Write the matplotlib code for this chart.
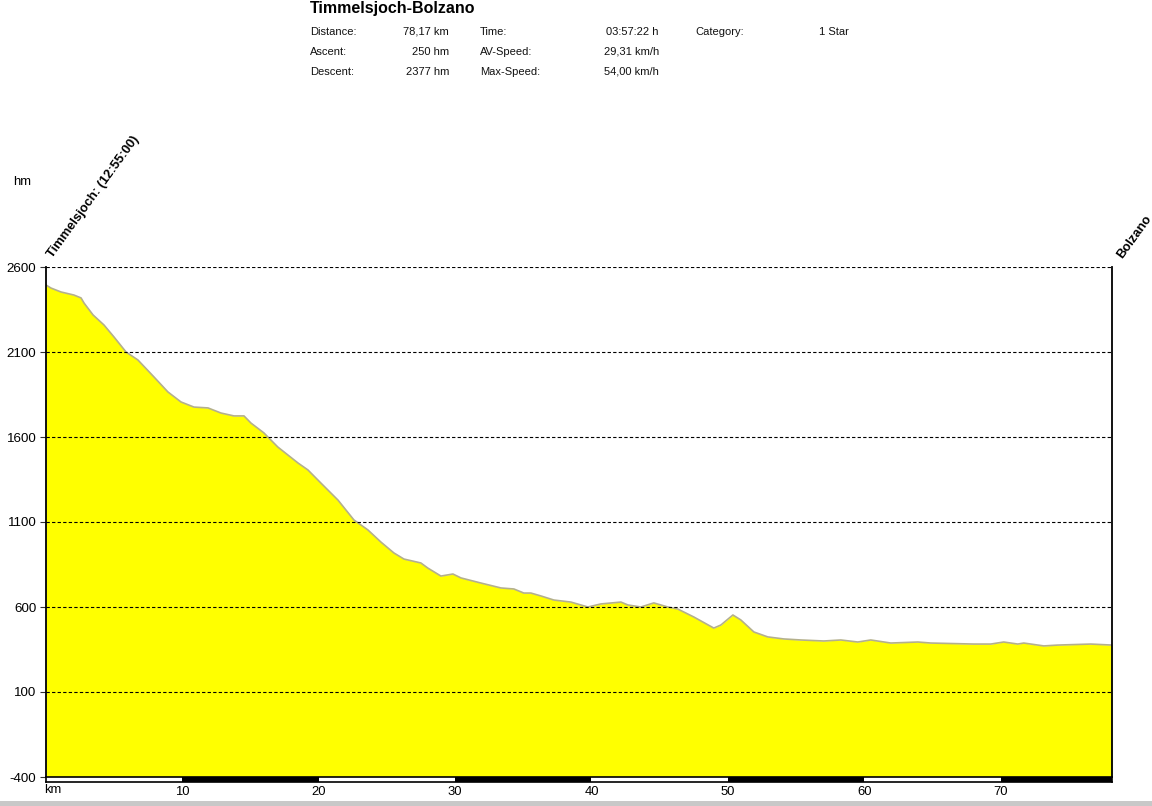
import matplotlib
matplotlib.use("Agg")
import matplotlib.pyplot as plt
from matplotlib.patches import Rectangle

plt.rcParams["font.family"] = ["Liberation Sans", "DejaVu Sans"]

# Höhenprofil (km, hm)
km = [0.0, 0.37, 1.1, 2.05, 2.57, 2.79, 3.45, 4.25, 4.99, 5.87, 6.74, 7.92,
      8.94, 9.90, 10.85, 11.88, 12.83, 13.78, 14.52, 15.03, 15.98, 17.0,
      18.48, 19.21, 20.16, 21.41, 22.58, 23.61, 24.56, 25.51, 26.25, 27.49,
      28.0, 28.96, 29.84, 30.43, 31.89, 33.36, 34.31, 35.04, 35.56, 36.29,
      37.24, 38.49, 39.74, 40.69, 42.16, 42.67, 43.62, 44.57, 45.6, 46.33,
      47.51, 48.97, 49.49, 50.37, 50.95, 51.91, 52.93, 54.11, 55.35, 57.04,
      58.28, 59.53, 60.48, 61.95, 63.93, 64.88, 68.04, 69.28, 70.23, 71.26,
      71.7, 73.17, 74.19, 76.61, 78.17]
hm = [2494, 2476, 2453, 2435, 2418, 2388, 2318, 2259, 2188, 2100, 2053, 1953,
      1865, 1806, 1776, 1771, 1741, 1724, 1724, 1682, 1624, 1541,
      1447, 1406, 1329, 1229, 1112, 1053, 982, 918, 882, 859,
      829, 782, 794, 771, 741, 712, 706, 682, 682, 665,
      641, 629, 600, 618, 629, 612, 600, 624, 600, 588,
      541, 476, 494, 553, 524, 453, 424, 412, 406, 400,
      406, 394, 406, 388, 394, 388, 382, 382, 394, 382,
      388, 371, 376, 382, 376]

y_ticks = [-400, 100, 600, 1100, 1600, 2100, 2600]
x_ticks = [10, 20, 30, 40, 50, 60, 70]
total_km = 78.17

title = "Timmelsjoch-Bolzano"
info_rows = [
    ("Distance:", "78,17 km", "Time:", "03:57:22 h", "Category:", "1 Star"),
    ("Ascent:", "250 hm", "AV-Speed:", "29,31 km/h", "", ""),
    ("Descent:", "2377 hm", "Max-Speed:", "54,00 km/h", "", ""),
]
start_label = "Timmelsjoch: (12:55:00)"
end_label = "Bolzano"

W, H = 1152, 806
fig = plt.figure(figsize=(W / 100, H / 100), dpi=100)


def fx(px):
    return px / W


def fy(py):
    return 1 - py / H


ax = fig.add_axes([fx(46), fy(777), fx(1112) - fx(46), fy(267) - fy(777)])
ax.fill_between(km, hm, -400, color="#ffff00", lw=0)
ax.plot(km, hm, color="#b4b08c", lw=1.2)
ax.set_xlim(0, total_km)
ax.set_ylim(-400, 2600)
ax.set_yticks(y_ticks)
ax.set_yticklabels([str(v) for v in y_ticks], fontsize=9.6)
ax.tick_params(axis="y", length=4, width=0.8, pad=3, color="#333333")
ax.set_xticks([])
for v in y_ticks[1:]:
    ax.axhline(v, color="black", lw=0.8, ls=(0, (3, 2)), zorder=3)
for s in ["top", "bottom"]:
    ax.spines[s].set_visible(False)
ax.spines["left"].set_linewidth(1.3)
ax.spines["right"].set_linewidth(1.3)

# Start-/Zielbeschriftung
ax.annotate(start_label, (0, 2600), xytext=(5, 6), textcoords="offset points",
            rotation=54, rotation_mode="anchor", ha="left", va="baseline",
            fontsize=9.4, fontweight="bold", annotation_clip=False)
ax.annotate(end_label, (total_km, 2600), xytext=(7, 6), textcoords="offset points",
            rotation=54, rotation_mode="anchor", ha="left", va="baseline",
            fontsize=9.4, fontweight="bold", annotation_clip=False)

# km-Skalenbalken
bar = fig.add_axes([fx(46), fy(781.5), fx(1112) - fx(46), fy(776.5) - fy(781.5)])
bar.set_xlim(0, total_km)
bar.set_ylim(0, 1)
for a in range(10, int(total_km) + 1, 20):
    bar.axvspan(a, min(a + 10, total_km), color="black", lw=0)
bar.set_xticks(x_ticks)
bar.set_xticklabels([str(v) for v in x_ticks], fontsize=9.4)
bar.tick_params(axis="x", length=0, pad=3)
bar.set_yticks([])
for s in bar.spines.values():
    s.set_linewidth(1.2)
fig.text(fx(44), fy(790), "km", fontsize=9.4, ha="left", va="center")

fig.text(fx(13), fy(182), "hm", fontsize=9.4, ha="left", va="center")

# Kopfzeile
fig.text(fx(310), fy(9), title, fontsize=11.5, fontweight="bold", ha="left", va="center")
cols = [(310, "left"), (449, "right"), (480, "left"), (659, "right"),
        (695, "left"), (849, "right")]
for i, row in enumerate(info_rows):
    y = fy(32 + 20 * i)
    for (px, ha), txt in zip(cols, row):
        fig.text(fx(px), y, txt, fontsize=8, ha=ha, va="center", color="#111111")

# grauer Streifen unten
fig.patches.append(Rectangle((0, 0), 1, 5 / H, transform=fig.transFigure,
                             color="#c8c8c8", lw=0))

fig.savefig("out.png", dpi=100)
